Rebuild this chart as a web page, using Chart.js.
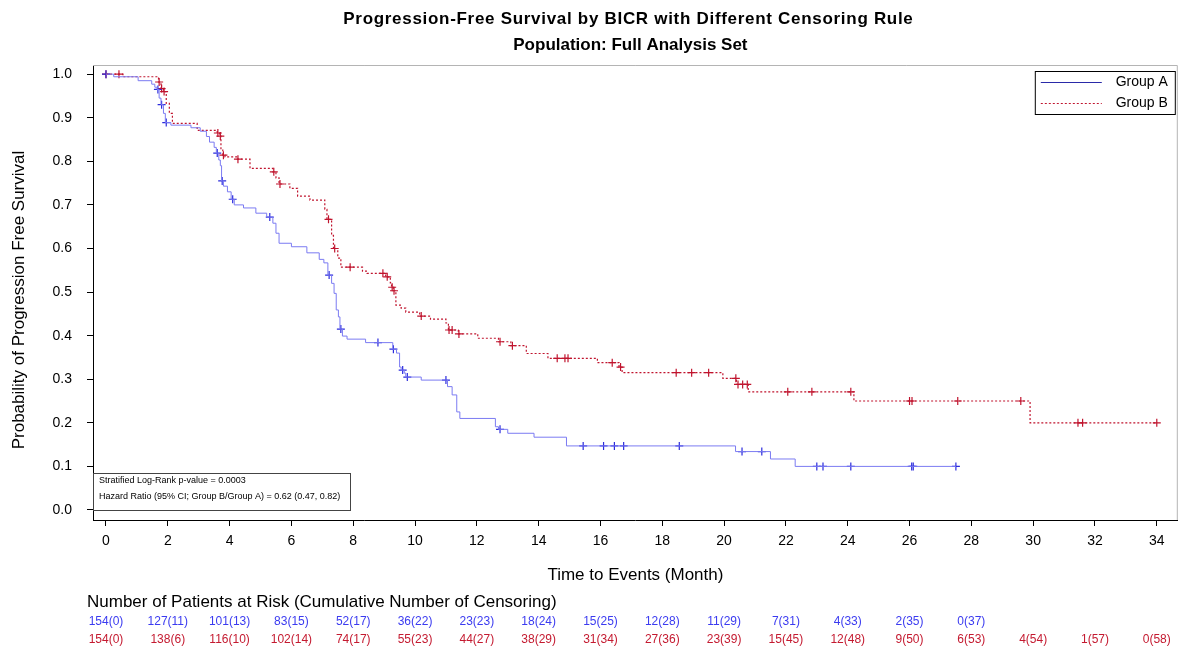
<!DOCTYPE html>
<html>
<head>
<meta charset="utf-8">
<script src="https://cdn.jsdelivr.net/npm/chart.js@4.4.1/dist/chart.umd.min.js"></script>
<style>
  html, body { margin: 0; padding: 0; background: #fff; }
  canvas { display: block; }
</style>
</head>
<body>
<canvas id="km" width="1183" height="653"></canvas>
<script>
//? DATA
const titleLines = ['Progression-Free Survival by BICR with Different Censoring Rule', 'Population: Full Analysis Set'];
const groupLabels = ['Group A', 'Group B'];
const yTitle = 'Probability of Progression Free Survival';
const xTitle = 'Time to Events (Month)';

// Group A: event times (month) and survival after each step
const timeA = [0, 0.25, 1.04, 1.48, 1.58, 1.65, 1.72, 1.78, 1.86, 1.92, 2.1, 2.75, 3.05, 3.25, 3.35, 3.5, 3.57, 3.65, 3.7, 3.74,
    3.8, 3.93, 4.05, 4.15, 4.45, 4.85, 5.2, 5.4, 5.5, 5.6, 6.0, 6.5, 6.9, 7.05, 7.18, 7.3, 7.38, 7.45, 7.52, 7.57,
    7.65, 7.8, 8.4, 9.28, 9.4, 9.5, 9.55, 9.65, 9.7, 10.2, 11.05, 11.2, 11.35, 11.45, 12.6, 12.7, 13.0, 13.85, 14.9, 20.37,
    21.5, 22.3, 27.5];
const survA = [1.0, 0.994, 0.985, 0.977, 0.97, 0.965, 0.945, 0.93, 0.91, 0.889, 0.883, 0.877, 0.869, 0.857, 0.844, 0.832, 0.819, 0.803, 0.79, 0.755,
    0.743, 0.73, 0.713, 0.70, 0.693, 0.681, 0.672, 0.658, 0.635, 0.612, 0.604, 0.59, 0.575, 0.567, 0.539, 0.52, 0.497, 0.459, 0.443, 0.415,
    0.399, 0.392, 0.384, 0.369, 0.36, 0.328, 0.321, 0.314, 0.305, 0.298, 0.283, 0.264, 0.225, 0.21, 0.191, 0.185, 0.176, 0.167, 0.147, 0.134,
    0.117, 0.1, 0.1];
const censA = [0, 1.68, 1.8, 1.95, 3.6, 3.76, 4.1, 5.3, 7.22, 7.6, 8.8, 9.3, 9.6, 9.75, 11.0, 12.75, 15.44, 16.1, 16.45, 16.75,
    18.55, 20.58, 21.22, 23.0, 23.2, 24.1, 26.07, 26.12, 27.5];

// Group B
const timeB = [0, 0.55, 1.7, 1.78, 1.86, 1.95, 2.05, 2.15, 2.95, 3.6, 3.68, 3.72, 3.78, 3.85, 4.25, 4.66, 5.4, 5.5, 5.6, 5.95,
    6.2, 6.6, 7.08, 7.15, 7.3, 7.36, 7.5, 7.6, 8.3, 8.45, 9.05, 9.2, 9.24, 9.3, 9.38, 9.55, 9.7, 10.15, 10.5, 11.0,
    11.08, 11.4, 12.03, 12.7, 13.1, 13.6, 14.3, 15.9, 16.6, 16.7, 19.96, 20.4, 20.78, 24.2, 29.9, 34.0];
const survB = [1.0, 0.994, 0.982, 0.967, 0.96, 0.933, 0.91, 0.887, 0.871, 0.865, 0.858, 0.826, 0.814, 0.81, 0.805, 0.784, 0.776, 0.762, 0.748, 0.738,
    0.72, 0.711, 0.69, 0.667, 0.63, 0.60, 0.578, 0.557, 0.548, 0.543, 0.535, 0.521, 0.511, 0.503, 0.47, 0.463, 0.454, 0.445, 0.438, 0.429,
    0.413, 0.404, 0.394, 0.386, 0.377, 0.359, 0.348, 0.338, 0.328, 0.315, 0.302, 0.288, 0.271, 0.25, 0.2, 0.2];
const censB = [0, 0.42, 1.72, 1.8, 1.88, 3.62, 3.7, 3.8, 4.27, 5.43, 5.63, 7.2, 7.4, 7.9, 8.96, 9.1, 9.26, 9.32, 10.2, 11.1,
    11.2, 11.42, 12.75, 13.15, 14.6, 14.85, 14.95, 16.38, 16.65, 18.45, 18.95, 19.5, 20.38, 20.45, 20.6, 20.75, 22.06, 22.84, 24.1, 26.0,
    26.08, 27.56, 29.6, 31.45, 31.6, 34.0];

const xTicks = [0, 2, 4, 6, 8, 10, 12, 14, 16, 18, 20, 22, 24, 26, 28, 30, 32, 34];
const yTicks = [0, 0.1, 0.2, 0.3, 0.4, 0.5, 0.6, 0.7, 0.8, 0.9, 1.0];

// patients at risk (cumulative censoring) at each x tick
const riskTimes = [0, 2, 4, 6, 8, 10, 12, 14, 16, 18, 20, 22, 24, 26, 28, 30, 32, 34];
const riskA = [154, 127, 101, 83, 52, 36, 23, 18, 15, 12, 11, 7, 4, 2, 0];
const riskCensA = [0, 11, 13, 15, 17, 22, 23, 24, 25, 28, 29, 31, 33, 35, 37];
const riskB = [154, 138, 116, 102, 74, 55, 44, 38, 31, 27, 23, 15, 12, 9, 6, 4, 1, 0];
const riskCensB = [0, 6, 10, 14, 17, 23, 27, 29, 34, 36, 39, 45, 48, 50, 53, 54, 57, 58];

const statLines = ['Stratified Log-Rank p-value = 0.0003', 'Hazard Ratio (95% CI; Group B/Group A) = 0.62 (0.47, 0.82)'];

//? STYLE
const FONT = "'Liberation Sans', Arial, sans-serif";
const colA = { line: '#7b7bf2', mark: '#2b2bdc', text: '#3b3bf0', legend: '#2a2aa8' };
const colB = { line: '#c0142e', mark: '#c0142e', text: '#c41a30', legend: '#c0142e' };

//? HELPERS
function stepPoints(t, s) {
    return t.map((v, i) => ({ x: v, y: s[i] }));
}
// survival level at a censoring time = last step at or before it
function censPoints(cens, t, s) {
    return cens.map(c => {
        let lvl = s[0];
        for (let i = 0; i < t.length; i++) { if (t[i] <= c + 1e-9) lvl = s[i]; }
        return { x: c, y: lvl };
    });
}

const kmDecor = {
    id: 'kmDecor',
    afterDraw(chart) {
        const { ctx, chartArea: ca, scales } = chart;
        const xs = scales.x;
        ctx.save();

        // gray frame top / right
        ctx.strokeStyle = '#b4b4b4';
        ctx.lineWidth = 1;
        ctx.beginPath();
        ctx.moveTo(ca.left, ca.top + 0.5);
        ctx.lineTo(ca.right - 0.5, ca.top + 0.5);
        ctx.lineTo(ca.right - 0.5, ca.bottom);
        ctx.stroke();

        // title
        const cx = (ca.left + ca.right) / 2 - 7;
        ctx.fillStyle = '#000';
        ctx.textAlign = 'center';
        ctx.textBaseline = 'middle';
        ctx.font = `bold 17px ${FONT}`;
        ctx.letterSpacing = '0.7px';
        ctx.fillText(titleLines[0], cx, 19);
        ctx.letterSpacing = '0px';
        ctx.fillText(titleLines[1], cx + 2, 45);

        // y axis title
        ctx.save();
        ctx.translate(19, 300);
        ctx.rotate(-Math.PI / 2);
        ctx.font = `17px ${FONT}`;
        ctx.fillText(yTitle, 0, 0);
        ctx.restore();

        // legend box
        const lx = ca.right - 143, ly = ca.top + 6;
        ctx.fillStyle = '#fff';
        ctx.fillRect(lx, ly, 140, 43);
        ctx.strokeStyle = '#000';
        ctx.strokeRect(lx + 0.5, ly + 0.5, 140, 43);
        ctx.font = `14px ${FONT}`;
        ctx.textAlign = 'right';
        [colA, colB].forEach((c, i) => {
            const yy = ly + 11 + i * 21;
            ctx.strokeStyle = c.legend;
            ctx.lineWidth = 1;
            ctx.setLineDash(i === 0 ? [] : [2, 2]);
            ctx.beginPath();
            ctx.moveTo(lx + 6, yy + 0.5);
            ctx.lineTo(lx + 67, yy + 0.5);
            ctx.stroke();
            ctx.setLineDash([]);
            ctx.fillStyle = '#000';
            ctx.fillText(groupLabels[i], lx + 133, yy);
        });

        // stats box
        const bx = ca.left, by = ca.bottom - 47, bw = 257, bh = 37;
        ctx.fillStyle = '#fff';
        ctx.fillRect(bx, by, bw, bh);
        ctx.strokeStyle = '#444';
        ctx.strokeRect(bx + 0.5, by + 0.5, bw, bh);
        ctx.fillStyle = '#000';
        ctx.textAlign = 'left';
        ctx.font = `9px ${FONT}`;
        ctx.fillText(statLines[0], bx + 6, by + 8);
        ctx.fillText(statLines[1], bx + 6, by + 24);

        // at-risk table
        ctx.font = `17px ${FONT}`;
        ctx.fillText('Number of Patients at Risk (Cumulative Number of Censoring)', 87, 602);
        ctx.font = `12px ${FONT}`;
        ctx.textAlign = 'center';
        ctx.fillStyle = colA.text;
        riskA.forEach((n, i) => ctx.fillText(`${n}(${riskCensA[i]})`, xs.getPixelForValue(riskTimes[i]), 622));
        ctx.fillStyle = colB.text;
        riskB.forEach((n, i) => ctx.fillText(`${n}(${riskCensB[i]})`, xs.getPixelForValue(riskTimes[i]), 640));

        ctx.restore();
    }
};

const ctx = document.getElementById('km');
new Chart(ctx, {
    type: 'line',
    data: {
        datasets: [
            {
                label: groupLabels[0],
                data: stepPoints(timeA, survA),
                borderColor: colA.line,
                borderWidth: 1,
                stepped: 'before',
                pointRadius: 0,
                fill: false,
            },
            {
                label: groupLabels[1],
                data: stepPoints(timeB, survB),
                borderColor: colB.line,
                borderWidth: 1.2,
                borderDash: [2, 2],
                stepped: 'before',
                pointRadius: 0,
                fill: false,
            },
            {
                label: groupLabels[0] + ' censored',
                data: censPoints(censA, timeA, survA),
                showLine: false,
                pointStyle: 'cross',
                pointRadius: 4,
                pointBorderWidth: 1.2,
                pointBorderColor: colA.mark,
            },
            {
                label: groupLabels[1] + ' censored',
                data: censPoints(censB, timeB, survB),
                showLine: false,
                pointStyle: 'cross',
                pointRadius: 4,
                pointBorderWidth: 1.2,
                pointBorderColor: colB.mark,
            },
        ]
    },
    options: {
        responsive: false,
        animation: false,
        devicePixelRatio: 1,
        layout: { padding: { top: 65, right: 0, bottom: 70, left: 0 } },
        plugins: {
            legend: { display: false },
            tooltip: { enabled: false },
            title: { display: false },
        },
        scales: {
            x: {
                type: 'linear',
                min: -0.42,
                max: 34.68,
                afterBuildTicks: s => { s.ticks = xTicks.map(v => ({ value: v })); },
                afterFit: s => { s.height = 63; },
                grid: { display: true, drawOnChartArea: false, tickLength: 6, color: '#000' },
                border: { display: true, color: '#000', width: 1 },
                ticks: { color: '#000', font: { family: FONT, size: 14 }, padding: 7, maxRotation: 0, autoSkip: false, callback: v => v },
                title: { display: true, text: xTitle, color: '#000', font: { family: FONT, size: 17 }, padding: { top: 4, bottom: -3 } },
            },
            y: {
                type: 'linear',
                min: -0.023,
                max: 1.021,
                afterBuildTicks: s => { s.ticks = yTicks.map(v => ({ value: v })); },
                afterFit: s => { s.width = 93; },
                grid: { display: true, drawOnChartArea: false, tickLength: 6, color: '#000' },
                border: { display: true, color: '#000', width: 1 },
                ticks: { color: '#000', font: { family: FONT, size: 14 }, padding: 15, callback: v => v.toFixed(1) },
                title: { display: false },
            }
        }
    },
    plugins: [kmDecor]
});
</script>
</body>
</html>
